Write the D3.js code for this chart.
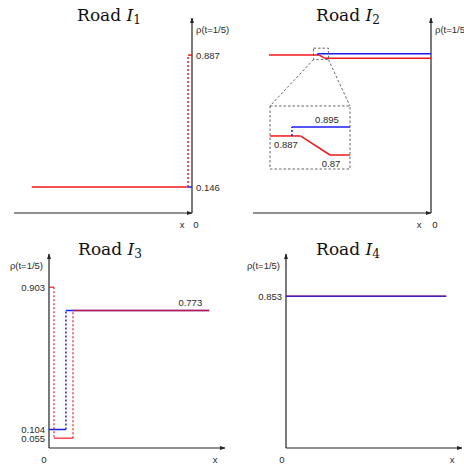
<!DOCTYPE html>
<html>
<head>
<meta charset="utf-8">
<script src="https://cdn.jsdelivr.net/npm/d3@7"></script>
<style>
  body { margin: 0; background: #fff; }
  svg { display: block; }
  .tick text, .lbl { font-family: "Liberation Sans", Arial, sans-serif; font-size: 9.5px; fill: #2a2a2a; }
  .title { font-family: "DejaVu Serif", serif; font-size: 17px; fill: #111; }
</style>
</head>
<body>
<svg width="464" height="465"></svg>
<script>
// density profiles at t = 1/5, as [x, rho] points; equal x in a row means a jump
var road1Red  = [[-0.9, 0.146], [-0.022, 0.146], [-0.022, 0.887], [0, 0.887]]
var road1Blue = [[-0.022, 0.146], [0, 0.146]]
var road2Red  = [[-0.91, 0.887], [-0.628, 0.887], [-0.597, 0.87], [0, 0.87]]
var road2Blue = [[-0.637, 0.887], [-0.637, 0.895], [0, 0.895]]
var road3Red  = [[0, 0.903], [0.028, 0.903], [0.028, 0.055], [0.135, 0.055], [0.135, 0.773], [0.9, 0.773]]
var road3Blue = [[0, 0.104], [0.095, 0.104], [0.095, 0.773], [0.9, 0.773]]
var road4Red  = [[0, 0.853], [0.9, 0.853]]
var road4Blue = [[0, 0.853], [0.9, 0.853]]
var road1Ticks = [0.887, 0.146]
var road3Ticks = [0.903, 0.104, 0.055]
var road4Ticks = [0.853]
var inset2Ticks = [0.895, 0.887, 0.87]
var yLabel = "ρ(t=1/5)"

var svg = d3.select('svg')
var red = "#f01818", blue = "#1c1cf0"

svg.append("defs").append("marker")
    .attr("id", "arrow")
    .attr("viewBox", "0 0 10 10")
    .attr("refX", 9).attr("refY", 5)
    .attr("markerWidth", 5).attr("markerHeight", 5)
    .attr("orient", "auto")
  .append("path")
    .attr("d", "M0,1.5L10,5L0,8.5z")
    .attr("fill", "#222")

function drawProfile(g, pts, x, y, color, opacity) {
  for (var i = 1; i < pts.length; i++) {
    var a = pts[i - 1], b = pts[i]
    var jump = a[0] === b[0]
    g.append("line")
      .attr("x1", x(a[0])).attr("y1", y(a[1]))
      .attr("x2", x(b[0])).attr("y2", y(b[1]))
      .attr("stroke", color)
      .attr("stroke-opacity", opacity)
      .attr("stroke-width", 1.5)
      .attr("stroke-dasharray", jump ? "2,2" : null)
  }
}

function title(cx, cy, n) {
  var t = svg.append("text").attr("class", "title")
      .attr("x", cx).attr("y", cy).attr("text-anchor", "middle")
  t.append("tspan").text("Road ")
  t.append("tspan").attr("font-style", "italic").text("I")
  t.append("tspan").attr("font-size", "12px").attr("dy", 3).text(n)
}

function panel(o) {
  var g = svg.append("g")
  var x = d3.scaleLinear().domain(o.xDomain).range(o.xRange)
  var y = d3.scaleLinear().domain([0, 1]).range(o.yRange)
  var x0 = x(0), yb = y(0)
  // axes
  g.append("line").attr("x1", o.xAxis[0]).attr("x2", o.xAxis[1])
      .attr("y1", yb).attr("y2", yb)
      .attr("stroke", "#222").attr("stroke-width", 1.2).attr("marker-end", "url(#arrow)")
  g.append("line").attr("x1", x0).attr("x2", x0)
      .attr("y1", yb).attr("y2", o.yTop)
      .attr("stroke", "#222").attr("stroke-width", 1.2).attr("marker-end", "url(#arrow)")
  // profiles
  drawProfile(g, o.under[0], x, y, o.under[1], 1)
  drawProfile(g, o.over[0], x, y, o.over[1], o.overOpacity)
  // tick labels
  if (o.ticks) {
    var ax = o.right ? d3.axisRight(y) : d3.axisLeft(y)
    var ag = g.append("g").attr("transform", "translate(" + x0 + ",0)")
      .call(ax.tickValues(o.ticks).tickSize(0).tickPadding(4).tickFormat(d3.format("")))
    ag.select(".domain").remove()
    ag.selectAll(".tick text").attr("font-size", null).attr("font-family", null)
  }
  // axis names
  g.append("text").attr("class", "lbl")
      .attr("x", o.right ? x0 + 4 : x0 - 6).attr("y", o.yTop + 15)
      .attr("text-anchor", o.right ? "start" : "end").text(yLabel)
  return {g: g, x: x, y: y}
}

// Road I1
var p1 = panel({xDomain: [-1, 0], xRange: [14, 192], yRange: [213, 35], xAxis: [14, 192], yTop: 18,
  under: [road1Red, red], over: [road1Blue, blue], overOpacity: 1, ticks: road1Ticks, right: true})
p1.g.append("text").attr("class", "lbl").attr("x", 182).attr("y", 228).attr("text-anchor", "middle").text("x")
p1.g.append("text").attr("class", "lbl").attr("x", p1.x(0) + 4).attr("y", 228).attr("text-anchor", "middle").text("0")
title(109, 21, "1")

// Road I2
var p2 = panel({xDomain: [-1, 0], xRange: [253, 431], yRange: [213, 35], xAxis: [253, 431], yTop: 18,
  under: [road2Red, red], over: [road2Blue, blue], overOpacity: 1, ticks: null, right: true})
p2.g.append("text").attr("class", "lbl").attr("x", 419).attr("y", 228).attr("text-anchor", "middle").text("x")
p2.g.append("text").attr("class", "lbl").attr("x", p2.x(0) + 4).attr("y", 228).attr("text-anchor", "middle").text("0")
title(348, 21, "2")

// zoom box on road I2 and its magnified inset
var zx = [-0.66, -0.576], zy = [0.926, 0.862]
var box = {x0: p2.x(zx[0]), x1: p2.x(zx[1]), y0: p2.y(zy[0]), y1: p2.y(zy[1])}
var ins = {x0: 270, x1: 350, y0: 106, y1: 169}
function dashed(sel) {
  return sel.attr("stroke", "#555").attr("stroke-width", 0.9)
    .attr("stroke-dasharray", "2.5,2").attr("fill", "none")
}
dashed(p2.g.append("rect").attr("x", box.x0).attr("y", box.y0)
  .attr("width", box.x1 - box.x0).attr("height", box.y1 - box.y0))
dashed(p2.g.append("line").attr("x1", box.x0).attr("y1", box.y1).attr("x2", ins.x0).attr("y2", ins.y0))
dashed(p2.g.append("line").attr("x1", box.x1).attr("y1", box.y1).attr("x2", ins.x1).attr("y2", ins.y0))
dashed(p2.g.append("rect").attr("x", ins.x0).attr("y", ins.y0)
  .attr("width", ins.x1 - ins.x0).attr("height", ins.y1 - ins.y0))
var ix = d3.scaleLinear().domain(zx).range([ins.x0, ins.x1]).clamp(true)
var iy = d3.scaleLinear().domain([inset2Ticks[2], inset2Ticks[0]]).range([155, 127])
var ig = p2.g.append("g")
drawProfile(ig, road2Red, ix, iy, red, 1)
drawProfile(ig, road2Blue, ix, iy, blue, 1)
ig.append("text").attr("class", "lbl").attr("x", 327).attr("y", iy(inset2Ticks[0]) - 4).attr("text-anchor", "middle").text(inset2Ticks[0])
ig.append("text").attr("class", "lbl").attr("x", 286).attr("y", iy(inset2Ticks[1]) + 12).attr("text-anchor", "middle").text(inset2Ticks[1])
ig.append("text").attr("class", "lbl").attr("x", 331).attr("y", iy(inset2Ticks[2]) + 12).attr("text-anchor", "middle").text(inset2Ticks[2])

// Road I3
var p3 = panel({xDomain: [0, 1], xRange: [49, 227], yRange: [448, 270], xAxis: [49, 225], yTop: 254,
  under: [road3Blue, blue], over: [road3Red, red], overOpacity: 0.78, ticks: road3Ticks, right: false})
p3.g.append("text").attr("class", "lbl").attr("x", p3.x(0) - 5).attr("y", 463).attr("text-anchor", "middle").text("0")
p3.g.append("text").attr("class", "lbl").attr("x", 215).attr("y", 463).attr("text-anchor", "middle").text("x")
p3.g.append("text").attr("class", "lbl").attr("x", p3.x(0.9) - 7).attr("y", p3.y(0.773) - 4)
  .attr("text-anchor", "end").text("0.773")
title(110, 255, "3")

// Road I4
var p4 = panel({xDomain: [0, 1], xRange: [286, 464], yRange: [448, 270], xAxis: [286, 462], yTop: 254,
  under: [road4Red, red], over: [road4Blue, blue], overOpacity: 0.8, ticks: road4Ticks, right: false})
p4.g.append("text").attr("class", "lbl").attr("x", p4.x(0) - 4).attr("y", 463).attr("text-anchor", "middle").text("0")
p4.g.append("text").attr("class", "lbl").attr("x", 452).attr("y", 463).attr("text-anchor", "middle").text("x")
title(348, 255, "4")
</script>
</body>
</html>
